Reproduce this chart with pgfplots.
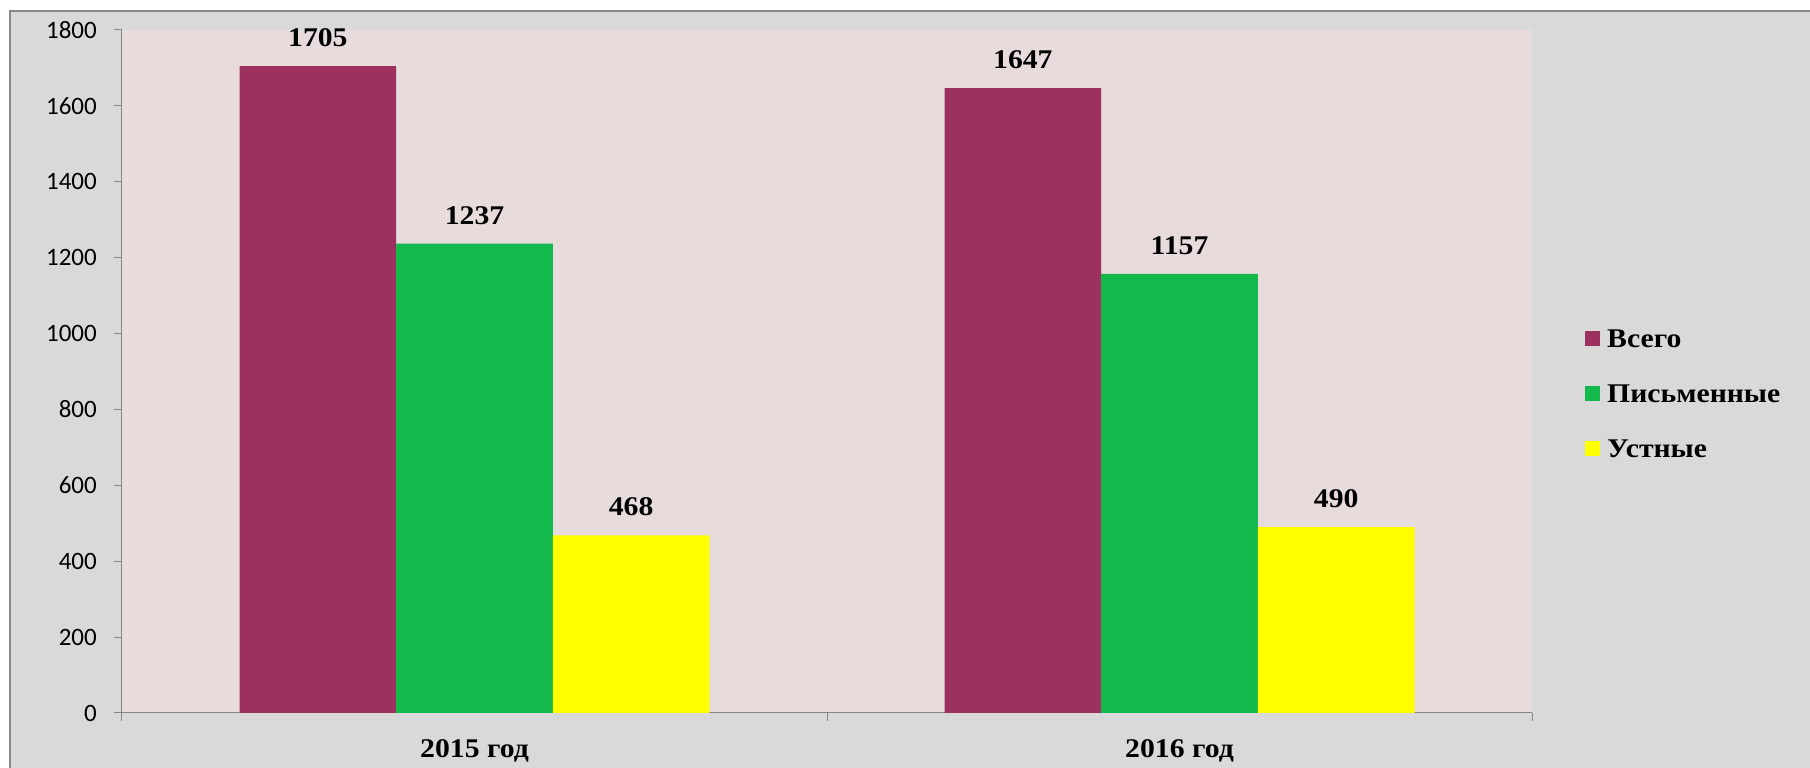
\documentclass[border=0pt]{standalone}
\usepackage{pgfplots}
\pgfplotsset{compat=1.18}
\usepackage{fontspec}
\setmainfont[FakeStretch=1.1]{Liberation Serif}
\newfontfamily\carlito{Carlito}
\definecolor{cA}{RGB}{156,49,96}
\definecolor{cB}{RGB}{20,185,75}
\definecolor{cC}{RGB}{255,255,0}
\definecolor{plotbg}{RGB}{232,219,219}
\definecolor{outerbg}{RGB}{217,217,217}
\definecolor{framec}{RGB}{137,137,137}
\definecolor{axisc}{RGB}{134,134,134}
\begin{document}
\begin{tikzpicture}[x=1bp,y=1bp]
\path[use as bounding box] (-122,-55) rectangle (1688,713);
\fill[white] (-122,-55) rectangle (1688,713);
\fill[outerbg] (-112,-55) rectangle (1688,702);
\draw[framec, line width=1.5bp] (-112,-56) -- (-112,702) -- (1689,702);
\begin{axis}[
  at={(0,0)}, anchor=south west,
  width=1410bp, height=683bp, scale only axis,
  xmin=-0.5, xmax=1.5, ymin=0, ymax=1800,
  ybar, bar width=0.2222,
  axis background/.style={fill=plotbg},
  axis lines*=left,
  axis line style={draw=axisc, line width=1bp},
  tick align=outside, major tick length=8bp,
  tick style={draw=axisc, line width=1bp},
  ytick={0,200,...,1800},
  xtick={-0.5,0.5,1.5}, xticklabels={,,},
  extra x ticks={0,1}, extra x tick labels={2015 год,2016 год},
  extra x tick style={major tick length=0pt},
  xticklabel style={font=\bfseries\fontsize{27bp}{27bp}\selectfont, inner sep=0pt, yshift=-26bp},
  yticklabel style={font=\carlito\fontsize{25bp}{25bp}\selectfont, anchor=east, inner sep=0pt, xshift=-17bp},
  /pgf/number format/assume math mode=true,
  /pgf/number format/set thousands separator={},
  nodes near coords,
  nodes near coords style={font=\bfseries\fontsize{27bp}{27bp}\selectfont, anchor=south, inner sep=0pt, yshift=19bp, text=black},
  legend style={at={(1.0376,0.4685)}, anchor=west, draw=none, fill=none, inner sep=0pt,
    font=\bfseries\fontsize{27bp}{27bp}\selectfont, row sep=37bp,
    nodes={inner sep=0pt, text height=18bp, text depth=0pt},
    /tikz/every odd column/.append style={column sep=7bp}},
  legend cell align=left,
  legend image code/.code={\fill[#1,draw=none] (0bp,-7.5bp) rectangle (15bp,7.5bp);},
]
\addplot[fill=cA, draw=none, bar shift=-0.2222] coordinates {(0,1705) (1,1647)};
\addplot[fill=cB, draw=none, bar shift=0] coordinates {(0,1237) (1,1157)};
\addplot[fill=cC, draw=none, bar shift=0.2222] coordinates {(0,468) (1,490)};
\legend{Всего,Письменные,Устные}
\end{axis}
\end{tikzpicture}
\end{document}
